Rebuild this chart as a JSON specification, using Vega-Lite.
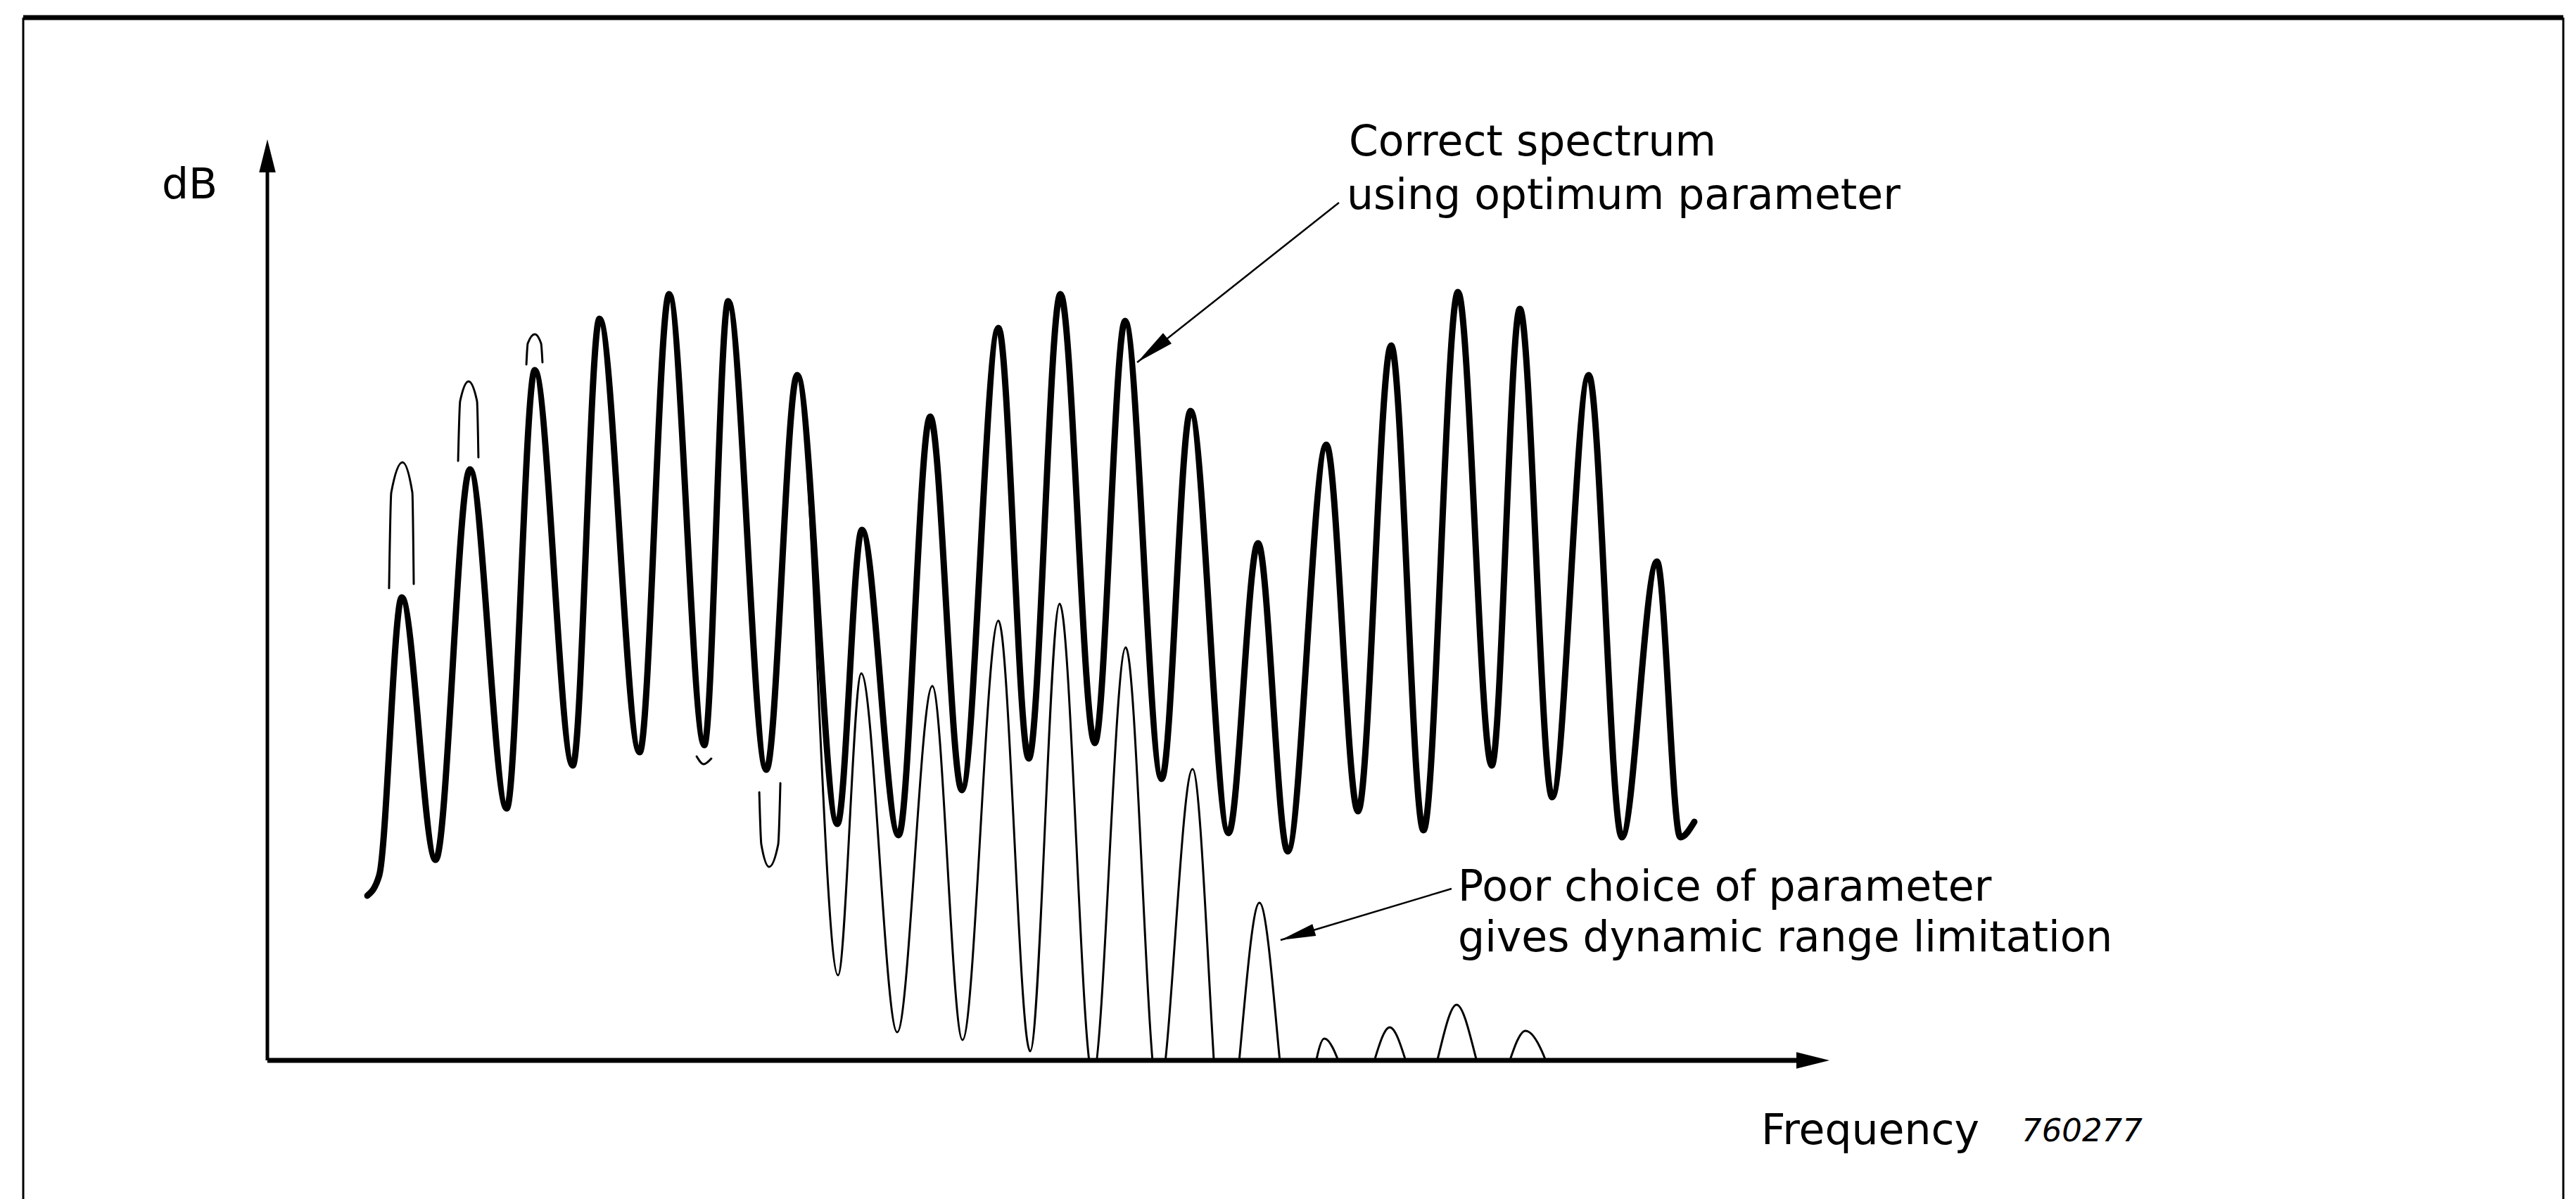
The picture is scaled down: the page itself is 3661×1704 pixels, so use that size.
{
  "$schema": "https://vega.github.io/schema/vega-lite/v6.json",
  "width": 2220,
  "height": 1309,
  "autosize": {"type": "none"},
  "padding": {"left": 380, "top": 198, "right": 1061, "bottom": 197},
  "background": "white",
  "config": {"view": {"stroke": null}},
  "datasets": {
    "thick": [
      {"u": 6.40, "v": 17.88}, {"u": 7.16, "v": 20.09}, {"u": 8.60, "v": 50.27}, {"u": 10.77, "v": 21.77},
      {"u": 12.97, "v": 64.17}, {"u": 15.32, "v": 27.35}, {"u": 17.12, "v": 74.94}, {"u": 19.55, "v": 32.01},
      {"u": 21.26, "v": 80.52}, {"u": 23.83, "v": 33.46}, {"u": 25.72, "v": 83.19}, {"u": 27.97, "v": 34.22},
      {"u": 29.50, "v": 82.43}, {"u": 31.94, "v": 31.55}, {"u": 33.92, "v": 74.41}, {"u": 36.49, "v": 25.67},
      {"u": 38.06, "v": 57.60}, {"u": 40.41, "v": 24.45}, {"u": 42.43, "v": 69.90}, {"u": 44.46, "v": 29.34},
      {"u": 46.80, "v": 79.53}, {"u": 48.74, "v": 32.77}, {"u": 50.77, "v": 83.19}, {"u": 52.97, "v": 34.45},
      {"u": 54.91, "v": 80.29}, {"u": 57.25, "v": 30.56}, {"u": 59.10, "v": 70.51}, {"u": 61.53, "v": 24.68},
      {"u": 63.42, "v": 56.15}, {"u": 65.32, "v": 22.69}, {"u": 67.79, "v": 66.84}, {"u": 69.82, "v": 27.04},
      {"u": 71.94, "v": 77.62}, {"u": 74.01, "v": 24.98}, {"u": 76.22, "v": 83.42}, {"u": 78.38, "v": 32.01},
      {"u": 80.18, "v": 81.59}, {"u": 82.25, "v": 28.57}, {"u": 84.59, "v": 74.41}, {"u": 86.71, "v": 24.22},
      {"u": 88.96, "v": 54.16}, {"u": 90.45, "v": 24.22}, {"u": 91.35, "v": 25.90}
    ],
    "thin": [
      {"seg": "main", "u": 6.40, "v": 17.88}, {"seg": "main", "u": 7.16, "v": 20.09}, {"seg": "main", "u": 8.60, "v": 50.27},
      {"seg": "main", "u": 10.77, "v": 21.77}, {"seg": "main", "u": 12.97, "v": 64.17}, {"seg": "main", "u": 15.32, "v": 27.35},
      {"seg": "main", "u": 17.12, "v": 74.94}, {"seg": "main", "u": 19.55, "v": 32.01}, {"seg": "main", "u": 21.26, "v": 80.52},
      {"seg": "main", "u": 23.83, "v": 33.46}, {"seg": "main", "u": 25.72, "v": 83.19}, {"seg": "main", "u": 27.97, "v": 34.22},
      {"seg": "main", "u": 29.50, "v": 82.43}, {"seg": "main", "u": 31.94, "v": 31.55}, {"seg": "main", "u": 33.92, "v": 74.41},
      {"seg": "main", "u": 36.53, "v": 9.24}, {"seg": "main", "u": 38.02, "v": 42.02}, {"seg": "main", "u": 40.32, "v": 3.06},
      {"seg": "main", "u": 42.57, "v": 40.64}, {"seg": "main", "u": 44.50, "v": 2.22}, {"seg": "main", "u": 46.80, "v": 47.75},
      {"seg": "main", "u": 48.83, "v": 0.99}, {"seg": "main", "u": 50.72, "v": 49.58}, {"seg": "main", "u": 52.84, "v": -1.76},
      {"seg": "main", "u": 54.95, "v": 44.84}, {"seg": "main", "u": 57.03, "v": -4.05}, {"seg": "main", "u": 59.23, "v": 31.63},
      {"seg": "main", "u": 61.26, "v": -10.9}, {"seg": "main", "u": 63.51, "v": 17.11}, {"seg": "main", "u": 65.77, "v": -10.9},
      {"seg": "main", "u": 67.66, "v": 2.37}, {"seg": "main", "u": 69.82, "v": -4}, {"seg": "main", "u": 71.85, "v": 3.59},
      {"seg": "main", "u": 73.96, "v": -4}, {"seg": "main", "u": 76.13, "v": 6.04}, {"seg": "main", "u": 78.38, "v": -4},
      {"seg": "main", "u": 80.54, "v": 3.21}, {"seg": "main", "u": 82.66, "v": -4},
      {"seg": "cap1", "u": 7.79, "v": 51.26}, {"seg": "cap1", "u": 7.93, "v": 61.65}, {"seg": "cap1", "u": 8.65, "v": 64.94},
      {"seg": "cap1", "u": 9.28, "v": 61.65}, {"seg": "cap1", "u": 9.37, "v": 51.72},
      {"seg": "cap2", "u": 12.21, "v": 65.09}, {"seg": "cap2", "u": 12.34, "v": 71.58}, {"seg": "cap2", "u": 12.88, "v": 73.72},
      {"seg": "cap2", "u": 13.42, "v": 71.58}, {"seg": "cap2", "u": 13.51, "v": 65.47},
      {"seg": "cap3", "u": 16.58, "v": 75.55}, {"seg": "cap3", "u": 16.67, "v": 77.85}, {"seg": "cap3", "u": 17.12, "v": 78.84},
      {"seg": "cap3", "u": 17.52, "v": 77.85}, {"seg": "cap3", "u": 17.61, "v": 75.78},
      {"seg": "hook5", "u": 27.48, "v": 33.0}, {"seg": "hook5", "u": 27.93, "v": 32.16}, {"seg": "hook5", "u": 28.42, "v": 32.77},
      {"seg": "u6", "u": 31.49, "v": 29.11}, {"seg": "u6", "u": 31.62, "v": 23.45}, {"seg": "u6", "u": 32.12, "v": 21.01},
      {"seg": "u6", "u": 32.70, "v": 23.45}, {"seg": "u6", "u": 32.84, "v": 30.10}
    ],
    "frame": [
      {"part": "top", "u": -15.63, "v": 113.22, "u2": 146.98, "v2": 113.22},
      {"part": "side", "u": -15.63, "v": 113.22, "u2": -15.63, "v2": -16},
      {"part": "side", "u": 146.98, "v": 113.22, "u2": 146.98, "v2": -16}
    ],
    "axes": [
      {"axis": "x", "u": 0, "v": 0, "u2": 98, "v2": 0},
      {"axis": "y", "u": 0, "v": 0, "u2": 0, "v2": 97}
    ],
    "leaders": [
      {"u": 68.60, "v": 93.12, "u2": 55.68, "v2": 75.78},
      {"u": 75.81, "v": 18.64, "u2": 64.86, "v2": 13.06}
    ],
    "yTip": [{"u": 0, "v": 100}],
    "xTip": [{"u": 100, "v": 0}],
    "tip1": [{"u": 55.68, "v": 75.78}],
    "tip2": [{"u": 64.86, "v": 13.06}],
    "labels": [
      {"label": "dB", "u": -6.76, "v": 93.58},
      {"label": "Correct spectrum", "u": 69.23, "v": 98.24},
      {"label": "using optimum parameter", "u": 69.10, "v": 92.44},
      {"label": "Poor choice of parameter", "u": 76.22, "v": 17.34},
      {"label": "gives dynamic range limitation", "u": 76.22, "v": 11.84},
      {"label": "Frequency", "u": 95.63, "v": -9.09}
    ],
    "code": [{"label": "760277", "u": 112.3, "v": -8.79}]
  },
  "layer": [
    {
      "data": {"name": "frame"},
      "transform": [{"filter": "datum.part === 'top'"}],
      "mark": {"type": "rule", "color": "black", "strokeWidth": 7},
      "encoding": {
        "x": {"field": "u", "type": "quantitative", "scale": {"domain": [0, 100], "nice": false, "zero": false}, "axis": null},
        "y": {"field": "v", "type": "quantitative", "scale": {"domain": [0, 100], "nice": false, "zero": false}, "axis": null},
        "x2": {"field": "u2"},
        "y2": {"field": "v2"}
      }
    },
    {
      "data": {"name": "frame"},
      "transform": [{"filter": "datum.part === 'side'"}],
      "mark": {"type": "rule", "color": "black", "strokeWidth": 3},
      "encoding": {
        "x": {"field": "u", "type": "quantitative", "axis": null},
        "y": {"field": "v", "type": "quantitative", "axis": null},
        "x2": {"field": "u2"},
        "y2": {"field": "v2"}
      }
    },
    {
      "data": {"name": "thin"},
      "mark": {"type": "line", "color": "black", "strokeWidth": 3, "interpolate": "monotone", "clip": true, "strokeCap": "round"},
      "encoding": {
        "x": {"field": "u", "type": "quantitative", "axis": null},
        "y": {"field": "v", "type": "quantitative", "axis": null},
        "detail": {"field": "seg", "type": "nominal"}
      }
    },
    {
      "data": {"name": "thick"},
      "mark": {"type": "line", "color": "black", "strokeWidth": 9, "interpolate": "monotone", "strokeCap": "round", "strokeJoin": "round"},
      "encoding": {
        "x": {"field": "u", "type": "quantitative", "axis": null},
        "y": {"field": "v", "type": "quantitative", "axis": null}
      }
    },
    {
      "data": {"name": "axes"},
      "transform": [{"filter": "datum.axis === 'x'"}],
      "mark": {"type": "rule", "color": "black", "strokeWidth": 7},
      "encoding": {
        "x": {"field": "u", "type": "quantitative", "axis": null},
        "y": {"field": "v", "type": "quantitative", "axis": null},
        "x2": {"field": "u2"},
        "y2": {"field": "v2"}
      }
    },
    {
      "data": {"name": "axes"},
      "transform": [{"filter": "datum.axis === 'y'"}],
      "mark": {"type": "rule", "color": "black", "strokeWidth": 5},
      "encoding": {
        "x": {"field": "u", "type": "quantitative", "axis": null},
        "y": {"field": "v", "type": "quantitative", "axis": null},
        "x2": {"field": "u2"},
        "y2": {"field": "v2"}
      }
    },
    {
      "data": {"name": "leaders"},
      "mark": {"type": "rule", "color": "black", "strokeWidth": 2.5},
      "encoding": {
        "x": {"field": "u", "type": "quantitative", "axis": null},
        "y": {"field": "v", "type": "quantitative", "axis": null},
        "x2": {"field": "u2"},
        "y2": {"field": "v2"}
      }
    },
    {
      "data": {"name": "yTip"},
      "mark": {"type": "point", "shape": "M0,0L0.5,2L-0.5,2Z", "filled": true, "color": "black", "opacity": 1, "size": 2209, "angle": 0, "strokeWidth": 0},
      "encoding": {
        "x": {"field": "u", "type": "quantitative", "axis": null},
        "y": {"field": "v", "type": "quantitative", "axis": null}
      }
    },
    {
      "data": {"name": "xTip"},
      "mark": {"type": "point", "shape": "M0,0L0.5,2L-0.5,2Z", "filled": true, "color": "black", "opacity": 1, "size": 2209, "angle": 90, "strokeWidth": 0},
      "encoding": {
        "x": {"field": "u", "type": "quantitative", "axis": null},
        "y": {"field": "v", "type": "quantitative", "axis": null}
      }
    },
    {
      "data": {"name": "tip1"},
      "mark": {"type": "point", "shape": "M0,0L0.35,2L-0.35,2Z", "filled": true, "color": "black", "opacity": 1, "size": 3025, "angle": 231.3, "strokeWidth": 0},
      "encoding": {
        "x": {"field": "u", "type": "quantitative", "axis": null},
        "y": {"field": "v", "type": "quantitative", "axis": null}
      }
    },
    {
      "data": {"name": "tip2"},
      "mark": {"type": "point", "shape": "M0,0L0.35,2L-0.35,2Z", "filled": true, "color": "black", "opacity": 1, "size": 2500, "angle": 253.3, "strokeWidth": 0},
      "encoding": {
        "x": {"field": "u", "type": "quantitative", "axis": null},
        "y": {"field": "v", "type": "quantitative", "axis": null}
      }
    },
    {
      "data": {"name": "labels"},
      "mark": {"type": "text", "align": "left", "baseline": "alphabetic", "font": "DejaVu Sans", "fontSize": 60, "color": "black"},
      "encoding": {
        "x": {"field": "u", "type": "quantitative", "axis": null},
        "y": {"field": "v", "type": "quantitative", "axis": null},
        "text": {"field": "label"}
      }
    },
    {
      "data": {"name": "code"},
      "mark": {"type": "text", "align": "left", "baseline": "alphabetic", "font": "DejaVu Sans", "fontSize": 45, "fontStyle": "italic", "color": "black"},
      "encoding": {
        "x": {"field": "u", "type": "quantitative", "axis": null},
        "y": {"field": "v", "type": "quantitative", "axis": null},
        "text": {"field": "label"}
      }
    }
  ]
}
